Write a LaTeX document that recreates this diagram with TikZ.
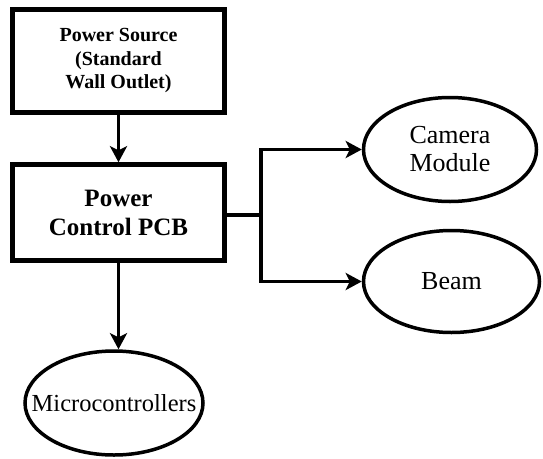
\documentclass[tikz,border=0pt]{standalone}
\usepackage{fontspec}
\setmainfont{Liberation Serif}
\usetikzlibrary{arrows.meta,shapes.geometric}

\begin{document}
\begin{tikzpicture}[x=1pt,y=-1pt,
  blockbox/.style={draw,line width=4.5pt,inner sep=0pt,align=center,
    font=\bfseries},
  oval/.style={draw,ellipse,line width=3.5pt,inner sep=0pt,align=center,
    font=\fontsize{26}{28}\selectfont},
  link/.style={line width=3.5pt,-{Stealth[length=16pt,width=17pt,inset=4pt]}}]
  \useasboundingbox (0,0) rectangle (543,458);
  \node[blockbox,minimum width=212pt,minimum height=103pt,
    font=\bfseries\fontsize{20}{23.5}\selectfont] (source) at (118.5,61)
    {Power Source\\(Standard\\Wall Outlet)};
  \node[blockbox,minimum width=212pt,minimum height=96pt,
    font=\bfseries\fontsize{25}{29}\selectfont] (pcb) at (118.5,212.5)
    {Power\\Control PCB};
  \node[oval,minimum width=173pt,minimum height=104pt] (camera) at (450,149.5)
    {Camera\\Module};
  \node[oval,minimum width=176pt,minimum height=102pt] (beam) at (451.5,281.5)
    {Beam};
  % text is wider than the ellipse allows, so shrink the inner sep
  \node[oval,inner xsep=-30pt,minimum width=178pt,minimum height=104pt,
    font=\fontsize{24.5}{28}\selectfont] (micro) at (114,403) {Microcontrollers};
  \coordinate (split) at (261,215);
  \draw[link] (source.south) -- (pcb.north);
  \draw[line width=3.5pt] (pcb.east |- split) -- (split);
  \draw[link] (split) |- (camera.west);
  \draw[link] (split) |- (beam.west);
  \draw[link] (pcb.south) -- (pcb.south |- micro.north);
\end{tikzpicture}
\end{document}
